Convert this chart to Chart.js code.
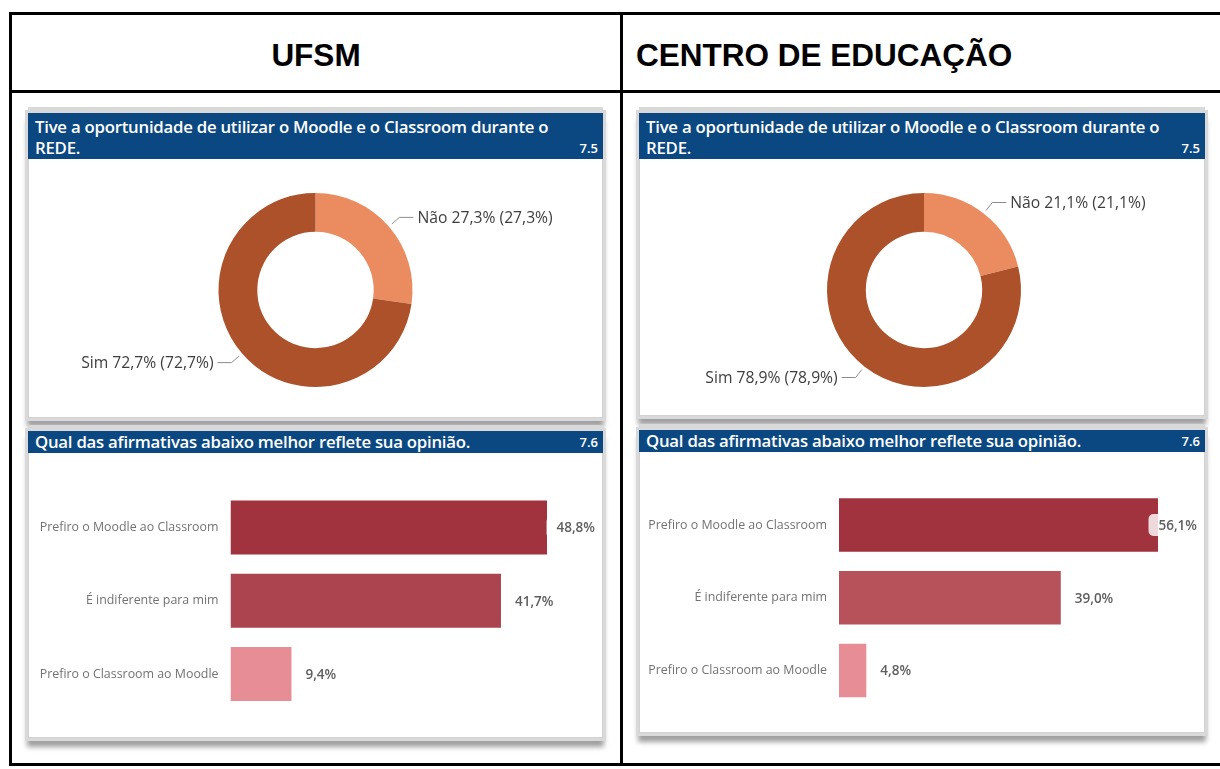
<!DOCTYPE html>
<html lang="pt-BR">
<head>
<meta charset="utf-8">
<title>UFSM x Centro de Educação</title>
<script src="https://cdn.jsdelivr.net/npm/chart.js@4.4.1/dist/chart.umd.min.js"></script>
<style>
html,body{margin:0;padding:0;background:#fff;}
body{width:1220px;height:769px;position:relative;overflow:hidden;font-family:"Open Sans",sans-serif;}
.line{position:absolute;background:#000;}
.hdr{position:absolute;top:37px;height:40px;line-height:40px;font:bold 31.5px "Liberation Sans",Arial,sans-serif;color:#000;white-space:nowrap;}
.panel{position:absolute;background:#fff;
  box-shadow: inset 0 0 0 1px #d2d2d2, 0 0 0 3px #d9d9d9, 0 -6px 0 0 #d9d9d9, 0 8px 5px 1px #a0a0a0;}
.ptitle{position:absolute;left:0;top:0;right:0;background:#0b4881;color:#fff;
  font-family:"Open Sans",sans-serif;font-weight:600;font-size:16.8px;letter-spacing:-0.25px;
  padding:3px 7px 0 7px;line-height:21px;box-sizing:border-box;white-space:nowrap;}
.ptitle .num{position:absolute;right:5px;bottom:0;font-size:13px;letter-spacing:0;line-height:21px;}
canvas{position:absolute;}
</style>
</head>
<body>
<!-- table grid -->
<div class="line" style="left:9px;top:12px;width:1211px;height:3px"></div>
<div class="line" style="left:9px;top:12px;width:3px;height:754px"></div>
<div class="line" style="left:9px;top:90px;width:1211px;height:3px"></div>
<div class="line" style="left:620px;top:12px;width:3px;height:754px"></div>
<div class="line" style="left:9px;top:763px;width:1211px;height:3px"></div>

<div class="hdr" style="left:12px;width:608px;text-align:center">UFSM</div>
<div class="hdr" style="left:636px">CENTRO DE EDUCAÇÃO</div>

<!-- panels -->
<div class="panel" style="left:28px;top:113px;width:575px;height:305px">
  <div class="ptitle" style="height:46px">Tive a oportunidade de utilizar o Moodle e o Classroom durante o<br>REDE.<span class="num">7.5</span></div>
</div>
<div class="panel" style="left:28px;top:431px;width:575px;height:307px">
  <div class="ptitle" style="height:22px;padding-top:0;line-height:22px">Qual das afirmativas abaixo melhor reflete sua opinião.<span class="num" style="line-height:22px">7.6</span></div>
</div>
<div class="panel" style="left:639px;top:113px;width:566px;height:303px">
  <div class="ptitle" style="height:46px">Tive a oportunidade de utilizar o Moodle e o Classroom durante o<br>REDE.<span class="num">7.5</span></div>
</div>
<div class="panel" style="left:639px;top:430px;width:566px;height:303px">
  <div class="ptitle" style="height:22px;padding-top:0;line-height:22px">Qual das afirmativas abaixo melhor reflete sua opinião.<span class="num" style="line-height:22px">7.6</span></div>
</div>

<canvas id="donutUfsm" width="575" height="259" style="left:28px;top:159px"></canvas>
<canvas id="barUfsm" width="575" height="285" style="left:28px;top:453px"></canvas>
<canvas id="donutCe" width="566" height="257" style="left:639px;top:159px"></canvas>
<canvas id="barCe" width="566" height="281" style="left:639px;top:452px"></canvas>

<script>
// ---------- data ----------
const donutCategories = ['Não', 'Sim'];
const ufsmDonutValues = [27.3, 72.7];
const ceDonutValues = [21.1, 78.9];

const barCategories = ['Prefiro o Moodle ao Classroom', 'É indiferente para mim', 'Prefiro o Classroom ao Moodle'];
const ufsmBarValues = [48.8, 41.7, 9.4];
const ceBarValues = [56.1, 39.0, 4.8];

// ---------- styles ----------
const donutColors = ['#EB8C60', '#AC5129'];
const ufsmBarColors = ['#A0333E', '#AC444F', '#E68D95'];
const ceBarColors = ['#A0333E', '#B7525A', '#E68D95'];
const ufsmAxisMax = 50;
const ceAxisMax = 60;

const fmt = v => v.toFixed(1).replace('.', ',');

const donutLabelPlugin = {
  id: 'donutLabels',
  afterDatasetsDraw(chart) {
    const ctx = chart.ctx;
    const meta = chart.getDatasetMeta(0);
    const ds = chart.data.datasets[0];
    ctx.save();
    ctx.font = '15.7px "Open Sans"';
    ctx.textBaseline = 'middle';
    meta.data.forEach((arc, i) => {
      const p = arc.getProps(['x', 'y', 'startAngle', 'endAngle', 'outerRadius'], true);
      const mid = (p.startAngle + p.endAngle) / 2;
      const c = Math.cos(mid), s = Math.sin(mid);
      const r0 = p.outerRadius + 4, r1 = p.outerRadius + 14;
      const x0 = p.x + c * r0, y0 = p.y + s * r0;
      const x1 = p.x + c * r1, y1 = p.y + s * r1;
      const dir = c >= 0 ? 1 : -1;
      const x2 = x1 + dir * 14;
      ctx.strokeStyle = '#8c8c8c';
      ctx.lineWidth = 1;
      ctx.beginPath();
      ctx.moveTo(x0, y0); ctx.lineTo(x1, y1); ctx.lineTo(x2, y1);
      ctx.stroke();
      const v = fmt(ds.data[i]);
      ctx.fillStyle = '#3e3e3e';
      ctx.textAlign = dir > 0 ? 'left' : 'right';
      ctx.fillText(`${chart.data.labels[i]} ${v}% (${v}%)`, x2 + dir * 4, y1 + 1);
    });
    ctx.restore();
  }
};

const barLabelPlugin = {
  id: 'barLabels',
  afterDatasetsDraw(chart) {
    const ctx = chart.ctx;
    const meta = chart.getDatasetMeta(0);
    const ds = chart.data.datasets[0];
    ctx.save();
    ctx.font = '600 13.5px "Open Sans"';
    ctx.textBaseline = 'middle';
    ctx.textAlign = 'left';
    const maxRight = chart.width - 8;
    meta.data.forEach((bar, i) => {
      const p = bar.getProps(['x', 'y'], true);
      const txt = fmt(ds.data[i]) + '%';
      const w = ctx.measureText(txt).width;
      const x = Math.min(p.x + 14, maxRight - w);
      ctx.fillStyle = 'rgba(255,255,255,0.82)';
      ctx.beginPath();
      if (ctx.roundRect) ctx.roundRect(x - 10, p.y - 11, w + 12, 22, 5);
      else ctx.rect(x - 10, p.y - 11, w + 12, 22);
      ctx.fill();
      ctx.fillStyle = '#5e5e5e';
      ctx.fillText(txt, x, p.y + 1);
    });
    ctx.restore();
  }
};

function makeDonut(id, values, padding) {
  return new Chart(document.getElementById(id), {
    type: 'doughnut',
    data: {
      labels: donutCategories,
      datasets: [{ data: values, backgroundColor: donutColors, borderWidth: 0, hoverOffset: 0 }]
    },
    options: {
      responsive: false,
      animation: false,
      devicePixelRatio: 1,
      cutout: '60%',
      layout: { padding },
      plugins: { legend: { display: false }, tooltip: { enabled: false } }
    },
    plugins: [donutLabelPlugin]
  });
}

function makeBar(id, values, colors, axisMax, axisWidth, padding) {
  return new Chart(document.getElementById(id), {
    type: 'bar',
    data: {
      labels: barCategories,
      datasets: [{ data: values, backgroundColor: colors, borderWidth: 0,
                   barPercentage: 0.736, categoryPercentage: 1 }]
    },
    options: {
      indexAxis: 'y',
      responsive: false,
      animation: false,
      devicePixelRatio: 1,
      layout: { padding },
      scales: {
        x: { display: false, min: 0, max: axisMax },
        y: {
          grid: { display: false, drawTicks: false },
          border: { display: false },
          ticks: { color: '#727272', padding: 12, font: { family: '"Open Sans"', size: 12.4 } },
          afterFit(scale) { scale.width = axisWidth; }
        }
      },
      plugins: { legend: { display: false }, tooltip: { enabled: false } }
    },
    plugins: [barLabelPlugin]
  });
}

makeDonut('donutUfsm', ufsmDonutValues, { top: 34, bottom: 31, left: 0, right: 0 });
makeDonut('donutCe', ceDonutValues, { top: 34, bottom: 29, left: 4, right: 0 });
makeBar('barUfsm', ufsmBarValues, ufsmBarColors, ufsmAxisMax, 202.5, { top: 37.9, bottom: 27.4, left: 0, right: 48.2 });
makeBar('barCe', ceBarValues, ceBarColors, ceAxisMax, 200, { top: 36.6, bottom: 26.1, left: 0, right: 24.8 });
</script>
</body>
</html>
